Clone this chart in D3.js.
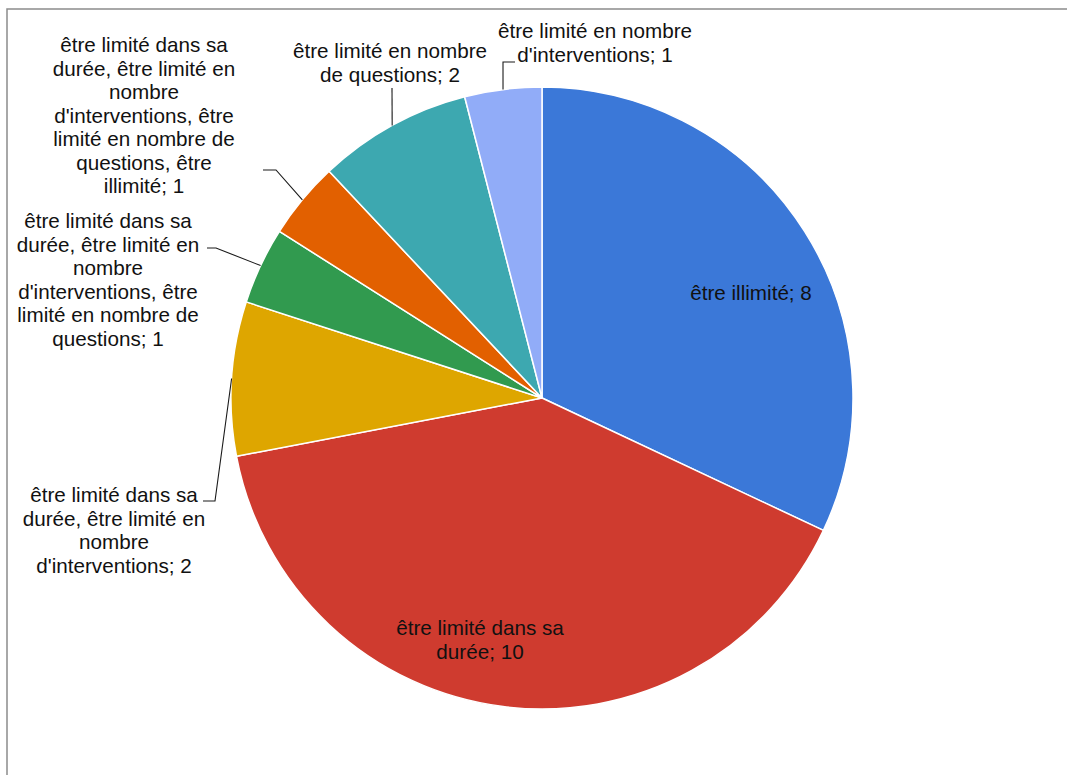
<!DOCTYPE html>
<html>
<head>
<meta charset="utf-8">
<script src="https://cdn.jsdelivr.net/npm/d3@7"></script>
<style>
  html, body { margin: 0; padding: 0; background: #fff; }
  svg { display: block; }
  text { font-family: "Liberation Sans", Arial, sans-serif; font-size: 20.67px; fill: #111; }
</style>
</head>
<body>
<script>
// ---- data ----
const categories = [
  "être illimité",
  "être limité dans sa durée",
  "être limité dans sa durée, être limité en nombre d'interventions",
  "être limité dans sa durée, être limité en nombre d'interventions, être limité en nombre de questions",
  "être limité dans sa durée, être limité en nombre d'interventions, être limité en nombre de questions, être illimité",
  "être limité en nombre de questions",
  "être limité en nombre d'interventions"
];
const values = [8, 10, 2, 1, 1, 2, 1];
const colors = ["#3b78d8", "#cf3b2f", "#dea600", "#319a4f", "#e26000", "#3da8b0", "#91acf8"];
// wrapped label lines, as shown in the chart
const labelLines = [
  ["être illimité; 8"],
  ["être limité dans sa", "durée; 10"],
  ["être limité dans sa", "durée, être limité en", "nombre", "d'interventions; 2"],
  ["être limité dans sa", "durée, être limité en", "nombre", "d'interventions, être", "limité en nombre de", "questions; 1"],
  ["être limité dans sa", "durée, être limité en", "nombre", "d'interventions, être", "limité en nombre de", "questions, être", "illimité; 1"],
  ["être limité en nombre", "de questions; 2"],
  ["être limité en nombre", "d'interventions; 1"]
];

// ---- layout ----
const W = 1067, H = 775;
const cx = 542, cy = 398, R = 311;
const lineH = 23.5;
// label anchor: center x, first baseline y; leader: elbow + end (null = inside label)
const labelLayout = [
  { x: 751, y: 300, leader: null },
  { x: 480, y: 635, leader: null },
  { x: 114, y: 502, leader: [[215, 501], [203, 501]] },
  { x: 108, y: 228, leader: [[216, 248], [207, 248]] },
  { x: 144, y: 52,  leader: [[276, 170], [263, 170]] },
  { x: 390, y: 58,  leader: [[392, 88]] },
  { x: 595, y: 38,  leader: [[503, 62], [515, 62]] }
];

const svg = d3.select("body").append("svg").attr("width", W).attr("height", H);

svg.append("rect").attr("x", 7).attr("y", 9).attr("width", W + 20).attr("height", H + 20)
  .attr("fill", "none").attr("stroke", "#8c8c8c").attr("stroke-width", 1.5);

const data = categories.map((c, i) => ({ c, v: values[i], i }));
const pie = d3.pie().value(d => d.v).sort(null).startAngle(0).endAngle(2 * Math.PI);
const arcs = pie(data);
const arc = d3.arc().innerRadius(0).outerRadius(R);

const g = svg.append("g").attr("transform", `translate(${cx},${cy})`);
g.selectAll("path").data(arcs).join("path")
  .attr("d", arc)
  .attr("fill", d => colors[d.data.i])
  .attr("stroke", "#fff").attr("stroke-width", 1.5).attr("stroke-linejoin", "round");

// leaders
arcs.forEach(a => {
  const lay = labelLayout[a.data.i];
  if (!lay.leader) return;
  const mid = (a.startAngle + a.endAngle) / 2;
  const p0 = [cx + R * Math.sin(mid), cy - R * Math.cos(mid)];
  const pts = [p0, ...lay.leader];
  svg.append("path").attr("d", d3.line()(pts))
    .attr("fill", "none").attr("stroke", "#1a1a1a").attr("stroke-width", 1.1);
});

// labels
arcs.forEach(a => {
  const lay = labelLayout[a.data.i];
  const t = svg.append("text").attr("text-anchor", "middle");
  labelLines[a.data.i].forEach((ln, k) => {
    t.append("tspan").attr("x", lay.x).attr("y", lay.y + k * lineH).text(ln);
  });
});
</script>
</body>
</html>
